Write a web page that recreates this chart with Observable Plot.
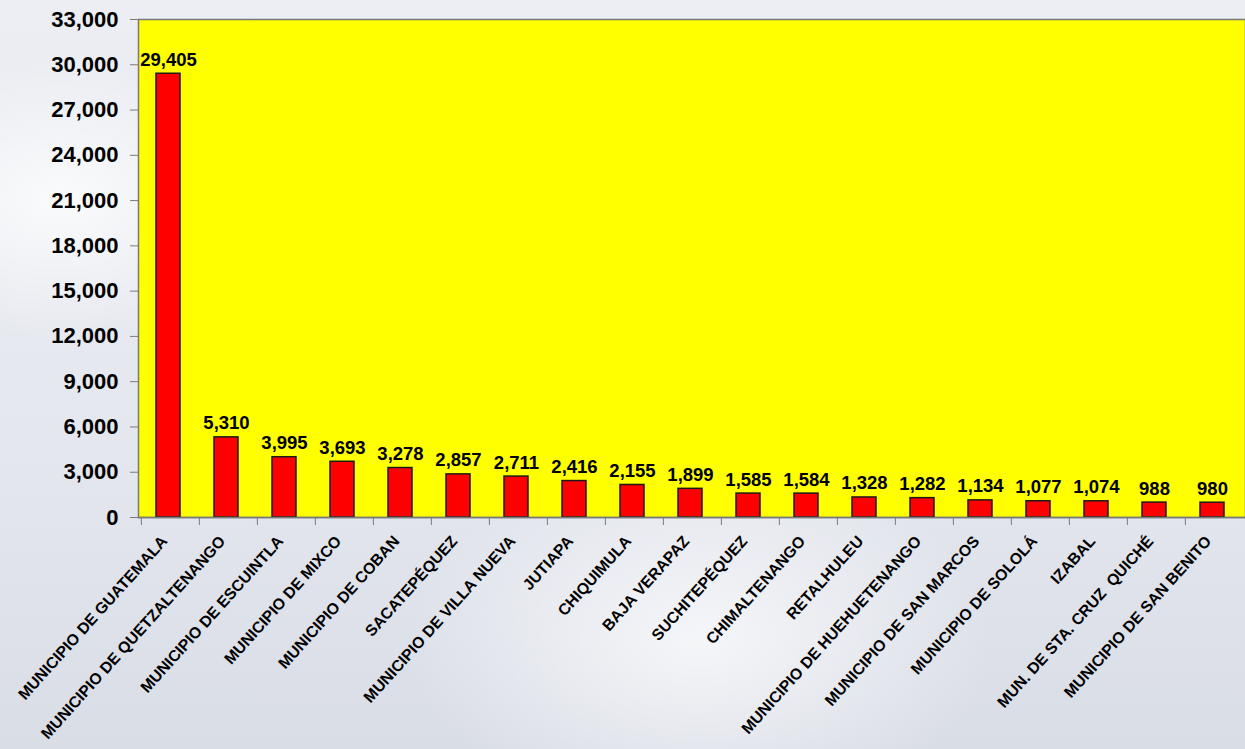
<!DOCTYPE html>
<html>
<head>
<meta charset="utf-8">
<script src="https://cdn.jsdelivr.net/npm/d3@7"></script>
<script src="https://cdn.jsdelivr.net/npm/@observablehq/plot@0.6"></script>
<style>
  html, body { margin: 0; padding: 0; }
  body {
    width: 1245px; height: 749px; overflow: hidden;
    background:
      radial-gradient(ellipse 420px 260px at 700px 640px, rgba(255,255,255,0.7), rgba(255,255,255,0) 70%),
      radial-gradient(ellipse 300px 200px at 60px 200px, rgba(255,255,255,0.8), rgba(255,255,255,0) 70%),
      linear-gradient(180deg, #eceef3 0%, #e4e7ee 60%, #d9dde6 100%);
  }
  #chart svg { display: block; }
</style>
</head>
<body>
<div id="chart"></div>
<script>
const categories = [
  "MUNICIPIO DE GUATEMALA", "MUNICIPIO DE QUETZALTENANGO", "MUNICIPIO DE ESCUINTLA",
  "MUNICIPIO DE MIXCO", "MUNICIPIO DE COBAN", "SACATEPÉQUEZ", "MUNICIPIO DE VILLA NUEVA",
  "JUTIAPA", "CHIQUIMULA", "BAJA VERAPAZ", "SUCHITEPÉQUEZ", "CHIMALTENANGO", "RETALHULEU",
  "MUNICIPIO DE HUEHUETENANGO", "MUNICIPIO DE SAN MARCOS", "MUNICIPIO DE SOLOLÁ", "IZABAL",
  "MUN. DE STA. CRUZ  QUICHÉ", "MUNICIPIO DE SAN BENITO"
];
const values = [29405, 5310, 3995, 3693, 3278, 2857, 2711, 2416, 2155, 1899, 1585, 1584, 1328, 1282, 1134, 1077, 1074, 988, 980];
const yTicks = [0, 3000, 6000, 9000, 12000, 15000, 18000, 21000, 24000, 27000, 30000, 33000];

const data = categories.map((c, i) => ({category: c, value: values[i]}));

const W = 1245, H = 749;
const mL = 138, mR = 0, mT = 19, mB = 232;
const step = (W - mL - mR) / categories.length;
const fmt = d3.format(",");

const chart = Plot.plot({
  width: W,
  height: H,
  marginLeft: mL,
  marginRight: mR,
  marginTop: mT,
  marginBottom: mB,
  style: {fontFamily: "'Liberation Sans', Arial, sans-serif", background: "transparent", overflow: "visible"},
  x: {type: "band", domain: categories, paddingInner: 0.59, paddingOuter: 0.295, axis: null},
  y: {domain: [0, 33000], axis: null},
  marks: [
    Plot.frame({fill: "#ffff00", stroke: "#7a7a7a", strokeWidth: 1.5}),
    Plot.barY(data, {x: "category", y: "value", fill: "#ff0000", stroke: "#1a1a1a", strokeWidth: 1.5, dx: -2}),
    Plot.text(data, {x: "category", y: "value", text: d => fmt(d.value), dy: -8, dx: -2, lineAnchor: "bottom",
      fontSize: 18.5, fontWeight: "bold", fill: "#000"}),
    Plot.ruleY([0], {stroke: "#7a7a7a", strokeWidth: 1.5}),
    Plot.axisY({ticks: yTicks, tickFormat: fmt, tickSize: 8, tickPadding: 12, stroke: "#7a7a7a",
      fontSize: 22, fontWeight: "bold", color: "#000", label: null}),
    Plot.axisX({tickSize: 8, tickFormat: () => "", dx: -step / 2, stroke: "#7a7a7a", label: null}),
    Plot.axisX({tickSize: 0, tickRotate: -48, tickPadding: 21, fontSize: 15.8, fontWeight: "bold",
      textAnchor: "end", label: null, dx: -6})
  ]
});
document.getElementById("chart").appendChild(chart);
</script>
</body>
</html>
